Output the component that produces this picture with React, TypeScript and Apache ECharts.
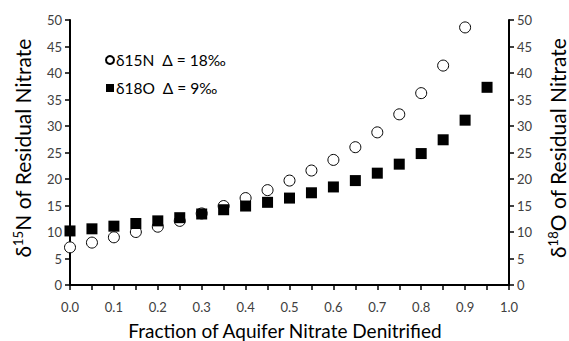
import React, { useEffect, useRef } from "react";
import * as echarts from "echarts";

const fractionsN = [0, 0.05, 0.1, 0.15, 0.2, 0.25, 0.3, 0.35, 0.4, 0.45, 0.5, 0.55, 0.6, 0.65, 0.7, 0.75, 0.8, 0.85, 0.9];
const d15N = [7.1, 8.0, 9.0, 10.0, 11.0, 12.1, 13.5, 14.9, 16.4, 17.9, 19.7, 21.6, 23.6, 26.0, 28.8, 32.2, 36.2, 41.4, 48.6];
const fractionsO = [0, 0.05, 0.1, 0.15, 0.2, 0.25, 0.3, 0.35, 0.4, 0.45, 0.5, 0.55, 0.6, 0.65, 0.7, 0.75, 0.8, 0.85, 0.9, 0.95];
const d18O = [10.2, 10.6, 11.1, 11.6, 12.1, 12.7, 13.4, 14.2, 14.9, 15.6, 16.4, 17.4, 18.5, 19.7, 21.1, 22.8, 24.8, 27.4, 31.1, 37.3];
const seriesNames = ["δ15N  Δ = 18‰", "δ18O  Δ = 9‰"];
const xTitle = "Fraction of Aquifer Nitrate Denitrified";

const FONT = "Lato";

export default function App() {
  const ref = useRef<HTMLDivElement>(null);
  useEffect(() => {
    if (!ref.current) return;
    const chart = echarts.init(ref.current, null, { renderer: "svg" });
    const axisCommon = {
      type: "value",
      min: 0,
      max: 50,
      interval: 5,
      splitLine: { show: false },
      axisLine: { show: true, lineStyle: { color: "#000", width: 2 } },
      axisTick: { show: true, length: 5, lineStyle: { color: "#000", width: 1.5 } },
      axisLabel: { color: "#404040", fontSize: 13, fontFamily: FONT, margin: 8 },
    };
    const titleRich = {
      a: { fontSize: 21, fontFamily: FONT, color: "#000" },
      s: { fontSize: 13, fontFamily: FONT, color: "#000", verticalAlign: "top", padding: [0, 0, 9, 0] },
    };
    chart.setOption({
      animation: false,
      grid: { left: 70, right: 60, top: 20, bottom: 56, containLabel: false },
      xAxis: {
        type: "value",
        min: 0,
        max: 1,
        interval: 0.05,
        splitLine: { show: false },
        axisLine: { show: true, onZero: false, lineStyle: { color: "#000", width: 2 } },
        axisTick: { show: true, length: 5, lineStyle: { color: "#000", width: 1.5 } },
        axisLabel: {
          color: "#404040",
          fontSize: 13,
          fontFamily: FONT,
          margin: 15,
          showMinLabel: true,
          showMaxLabel: true,
          formatter: (v: number) => (Math.round(v * 20) % 2 === 0 ? v.toFixed(1) : ""),
        },
      },
      yAxis: [
        { ...axisCommon, position: "left" },
        { ...axisCommon, position: "right" },
      ],
      legend: {
        orient: "vertical",
        left: 100,
        top: 46,
        itemWidth: 8,
        itemHeight: 8,
        itemGap: 10,
        textStyle: { fontSize: 15.5, lineHeight: 18, fontFamily: FONT, color: "#000", padding: [0, 0, 0, -3] },
        data: [
          { name: seriesNames[0], icon: "circle" },
          { name: seriesNames[1], icon: "rect" },
        ],
      },
      graphic: [
        {
          type: "text",
          x: 285,
          y: 330,
          style: { text: xTitle, fontSize: 19, fontFamily: FONT, fill: "#000", align: "center", verticalAlign: "middle" },
        },
        {
          type: "text",
          x: 22,
          y: 148,
          rotation: Math.PI / 2,
          style: { text: "{a|δ}{s|15}{a|N of Residual Nitrate}", rich: titleRich, align: "center", verticalAlign: "middle" },
        },
        {
          type: "text",
          x: 557,
          y: 148,
          rotation: Math.PI / 2,
          style: { text: "{a|δ}{s|18}{a|O of Residual Nitrate}", rich: titleRich, align: "center", verticalAlign: "middle" },
        },
      ],
      series: [
        {
          name: seriesNames[0],
          type: "scatter",
          yAxisIndex: 0,
          symbol: "circle",
          symbolSize: 11,
          itemStyle: { color: "#fff", borderColor: "#000", borderWidth: 1, opacity: 1 },
          data: fractionsN.map((f, i) => [f, d15N[i]]),
        },
        {
          name: seriesNames[1],
          type: "scatter",
          yAxisIndex: 1,
          symbol: "rect",
          symbolSize: 11,
          itemStyle: { color: "#000", opacity: 1 },
          data: fractionsO.map((f, i) => [f, d18O[i]]),
        },
      ],
    });
    return () => chart.dispose();
  }, []);
  return <div ref={ref} style={{ width: 569, height: 341, position: "absolute", left: 0, top: 0 }} />;
}
